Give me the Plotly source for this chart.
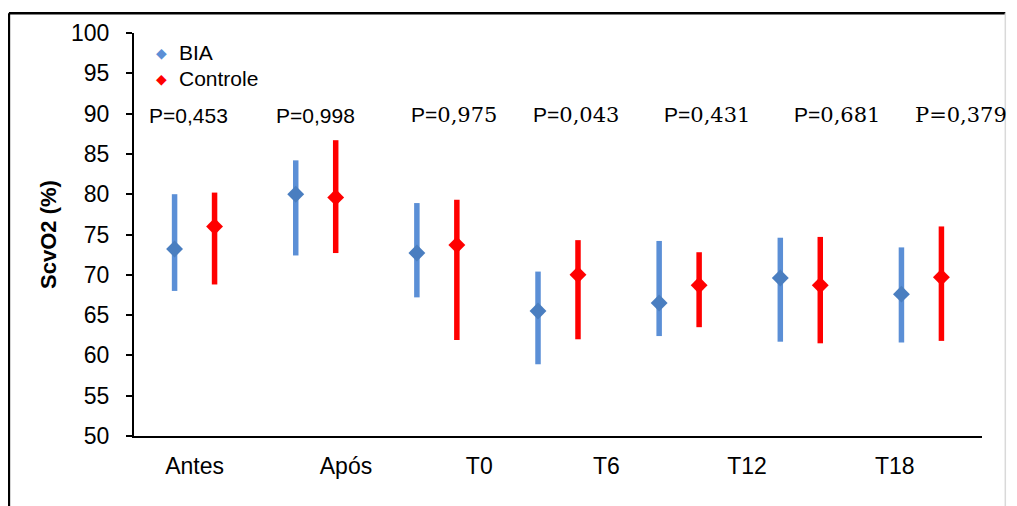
import plotly.graph_objects as go

# ---- data ----
slots = [0, 1, 2, 3, 4, 5, 6]
category_labels = ["Antes", "Após", "T0", "T6", "T12", "T18"]
series_names = ["BIA", "Controle"]
bia_mean = [73.2, 80.0, 72.7, 65.5, 66.5, 69.6, 67.6]
bia_high = [80.0, 84.2, 78.9, 70.4, 74.2, 74.6, 73.4]
bia_low = [68.0, 72.4, 67.2, 58.9, 62.4, 61.7, 61.6]
ctrl_mean = [76.0, 79.6, 73.7, 70.0, 68.7, 68.7, 69.7]
ctrl_high = [80.2, 86.7, 79.3, 74.3, 72.8, 74.7, 76.0]
ctrl_low = [68.8, 72.7, 61.9, 62.0, 63.5, 61.5, 61.8]
p_values = ["0,453", "0,998", "0,975", "0,043", "0,431", "0,681", "0,379"]

# ---- positions / styles ----
offset = 0.165
label_x = [0.0, 1.25, 2.35, 3.40, 4.56, 5.78]
p_x = [-0.05, 1.0, 2.14, 3.15, 4.23, 5.30, 6.33]
p_y = 89.8
p_style = ["sans", "sans", "mix", "mix", "mix", "mix", "serif"]
SANS = "Liberation Sans, Arial, sans-serif"
SERIF = "DejaVu Serif"
BLUE_M = "#4A7EC0"
BLUE_E = "#5B8FD6"
RED = "#FF0000"

fig = go.Figure()

fig.add_trace(go.Scatter(
    x=[s - offset for s in slots], y=bia_mean, mode="markers", name=series_names[0],
    marker=dict(symbol="diamond", size=13, color=BLUE_M),
    error_y=dict(type="data", symmetric=False,
                 array=[h - m for h, m in zip(bia_high, bia_mean)],
                 arrayminus=[m - l for m, l in zip(bia_mean, bia_low)],
                 color=BLUE_E, thickness=5.5, width=0),
))
fig.add_trace(go.Scatter(
    x=[s + offset for s in slots], y=ctrl_mean, mode="markers", name=series_names[1],
    marker=dict(symbol="diamond", size=13, color=RED),
    error_y=dict(type="data", symmetric=False,
                 array=[h - m for h, m in zip(ctrl_high, ctrl_mean)],
                 arrayminus=[m - l for m, l in zip(ctrl_mean, ctrl_low)],
                 color=RED, thickness=5.5, width=0),
))

for x, p, st in zip(p_x, p_values, p_style):
    if st == "sans":
        txt = "P=" + p
    elif st == "mix":
        txt = "P=<span style='font-family:" + SERIF + "'>" + p + "</span>"
    else:
        txt = "<span style='font-family:" + SERIF + "'>P=" + p + "</span>"
    fig.add_annotation(x=x, y=p_y, xref="x", yref="y", text=txt, showarrow=False,
                       font=dict(family=SANS, size=21, color="black"),
                       xanchor="center", yanchor="middle")

# manual legend
for name, col, ly in zip(series_names, [BLUE_E, RED], [0.9507, 0.8867]):
    fig.add_annotation(x=0.0319, y=ly, xref="paper", yref="paper", text="◆",
                       showarrow=False, xanchor="center", yanchor="middle",
                       font=dict(family="DejaVu Sans", size=14, color=col))
    fig.add_annotation(x=0.0512, y=ly, xref="paper", yref="paper", text=name,
                       showarrow=False, xanchor="left", yanchor="middle",
                       font=dict(family=SANS, size=21, color="black"))

# outer frame lines
fig.add_shape(type="line", xref="paper", yref="paper", x0=-0.1475, x1=-0.1475,
              y0=1.049, y1=-0.2, line=dict(color="black", width=2.5))
fig.add_shape(type="line", xref="paper", yref="paper", x0=-0.1475, x1=1.0275,
              y0=1.049, y1=1.049, line=dict(color="black", width=2.5))
fig.add_shape(type="line", xref="paper", yref="paper", x0=1.0275, x1=1.0275,
              y0=1.049, y1=-0.2, line=dict(color="#D9D9D9", width=1.5))

fig.update_layout(
    width=1009, height=498,
    margin=dict(l=126, r=35, t=22, b=70),
    paper_bgcolor="white", plot_bgcolor="white",
    font=dict(family=SANS, color="black"),
    showlegend=False,
    xaxis=dict(range=[-0.5, 6.5], showline=True, linecolor="black", linewidth=2,
               showgrid=False, zeroline=False, tickmode="array",
               tickvals=label_x, ticktext=category_labels,
               ticks="outside", ticklen=8, tickcolor="rgba(0,0,0,0)",
               tickfont=dict(family=SANS, size=23, color="black")),
    yaxis=dict(range=[50, 100], dtick=5, showline=True, linecolor="black", linewidth=2,
               showgrid=False, zeroline=False, ticks="outside", ticklen=6, tickwidth=2,
               tickcolor="black", ticklabelstandoff=12,
               tickfont=dict(family=SANS, size=23, color="black"),
               title=dict(text="<b>ScvO2 (%)</b>", standoff=8,
                          font=dict(family=SANS, size=22, color="black"))),
)

fig.write_html("out.html")
